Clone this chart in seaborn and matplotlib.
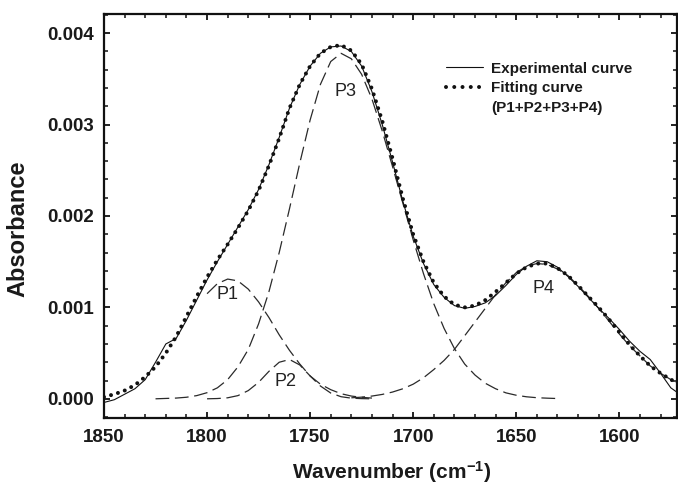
import matplotlib
matplotlib.use("Agg")
import matplotlib.pyplot as plt
from matplotlib.lines import Line2D
from matplotlib.ticker import MultipleLocator, FormatStrFormatter
import seaborn as sns

# ---------------- data ----------------
WAVENUMBER = [1850, 1845, 1840, 1835, 1830, 1825, 1820, 1815, 1810, 1805,
              1800, 1795, 1790, 1785, 1780, 1775, 1770, 1765, 1760, 1755,
              1750, 1745, 1740, 1735, 1730, 1725, 1720, 1715, 1710, 1705,
              1700, 1695, 1690, 1685, 1680, 1675, 1670, 1665, 1660, 1655,
              1650, 1645, 1640, 1635, 1630, 1625, 1620, 1615, 1610, 1605,
              1600, 1595, 1590, 1585, 1580, 1575, 1570]

EXPERIMENTAL = [-0.00004, -0.00001, 0.00005, 0.00011, 0.00021, 0.00040, 0.00060, 0.00066, 0.00086, 0.00108,
                0.00130, 0.00150, 0.00169, 0.00188, 0.00207, 0.00229, 0.00256, 0.00286, 0.00318, 0.00344,
                0.00364, 0.00378, 0.00385, 0.00386, 0.00380, 0.00364, 0.00336, 0.00300, 0.00259, 0.00216,
                0.00178, 0.00148, 0.00125, 0.00111, 0.00102, 0.00099, 0.00101, 0.00105, 0.00113, 0.00124,
                0.00136, 0.00145, 0.00151, 0.00150, 0.00144, 0.00134, 0.00123, 0.00111, 0.00099, 0.00088,
                0.00076, 0.00063, 0.00052, 0.00043, 0.00028, 0.00012, 0.00004]

FITTING = [0.00002, 0.00005, 0.00009, 0.00015, 0.00024, 0.00035, 0.00050, 0.00068, 0.00090, 0.00112,
           0.00133, 0.00152, 0.00169, 0.00187, 0.00206, 0.00228, 0.00255, 0.00285, 0.00318, 0.00344,
           0.00364, 0.00378, 0.00385, 0.00387, 0.00381, 0.00366, 0.00339, 0.00304, 0.00263, 0.00219,
           0.00180, 0.00150, 0.00127, 0.00112, 0.00103, 0.00100, 0.00102, 0.00108, 0.00117, 0.00127,
           0.00137, 0.00144, 0.00148, 0.00148, 0.00143, 0.00135, 0.00124, 0.00112, 0.00100, 0.00087,
           0.00073, 0.00059, 0.00047, 0.00036, 0.00028, 0.00021, 0.00016]

P1_X = [1800, 1795, 1790, 1785, 1780, 1775, 1770, 1765, 1760, 1755,
        1750, 1745, 1740, 1735, 1730, 1725, 1720]
P1_Y = [0.00115, 0.00126, 0.00131, 0.00129, 0.00120, 0.00106, 0.00089, 0.00070, 0.00053, 0.00038,
        0.00025, 0.00016, 0.00010, 0.000056, 0.00003, 0.000016, 0.000008]

P2_X = [1800, 1795, 1790, 1785, 1780, 1775, 1770, 1765, 1760, 1755,
        1750, 1745, 1740, 1735, 1730, 1725, 1720]
P2_Y = [0.0, 0.000003, 0.000011, 0.000035, 0.00009, 0.00018, 0.00030, 0.00040, 0.00043, 0.00037,
        0.00025, 0.00014, 0.000063, 0.000023, 0.000007, 0.000002, 0.0]

P3_X = [1825, 1820, 1815, 1810, 1805, 1800, 1795, 1790, 1785, 1780,
        1775, 1770, 1765, 1760, 1755, 1750, 1745, 1740, 1735, 1730,
        1725, 1720, 1715, 1710, 1705, 1700, 1695, 1690, 1685, 1680,
        1675, 1670, 1665, 1660, 1655, 1650, 1645, 1640, 1635, 1630]
P3_Y = [0.0, 0.000004, 0.000008, 0.000017, 0.000035, 0.000067, 0.00012, 0.00021, 0.00035, 0.00054,
        0.00082, 0.00117, 0.00160, 0.00208, 0.00258, 0.00305, 0.00344, 0.00369, 0.00378, 0.00372,
        0.00355, 0.00328, 0.00293, 0.00254, 0.00214, 0.00174, 0.00137, 0.00104, 0.00077, 0.00055,
        0.00038, 0.00026, 0.00017, 0.00011, 0.000065, 0.000039, 0.000022, 0.000012, 0.000007, 0.000003]

P4_X = [1730, 1725, 1720, 1715, 1710, 1705, 1700, 1695, 1690, 1685,
        1680, 1675, 1670, 1665, 1660, 1655, 1650, 1645, 1640, 1635,
        1630, 1625, 1620, 1615, 1610, 1605, 1600, 1595, 1590, 1585,
        1580, 1575, 1570]
P4_Y = [0.000011, 0.000018, 0.00003, 0.000048, 0.000074, 0.00011, 0.00016, 0.00023, 0.00032, 0.00042,
        0.00054, 0.00069, 0.00084, 0.00099, 0.00114, 0.00127, 0.00138, 0.00145, 0.00148, 0.00147,
        0.00142, 0.00135, 0.00124, 0.00112, 0.00099, 0.00085, 0.00071, 0.00058, 0.00047, 0.00036,
        0.00028, 0.00021, 0.00015]

PEAK_LABELS = ["P1", "P2", "P3", "P4"]
PEAK_LABEL_X = [1790, 1762, 1733, 1637]
PEAK_LABEL_Y = [0.00114, 0.00019, 0.00336, 0.00121]

X_TICKS = [1850, 1800, 1750, 1700, 1650, 1600]
Y_TICKS = [0.000, 0.001, 0.002, 0.003, 0.004]

# ---------------- style ----------------
sns.set_theme(style="ticks")
plt.rcParams["font.family"] = ["Liberation Sans", "DejaVu Sans"]
plt.rcParams["mathtext.fontset"] = "custom"
plt.rcParams["mathtext.rm"] = "Liberation Sans:bold"
plt.rcParams["mathtext.it"] = "Liberation Sans:bold"
plt.rcParams["mathtext.bf"] = "Liberation Sans:bold"
plt.rcParams["mathtext.default"] = "rm"

fig = plt.figure(figsize=(6.78, 4.86), dpi=100)
ax = fig.add_axes([104 / 678, 68 / 486, 573 / 678, 404 / 486])

dash = (0, (11, 4.5))
comp_color = "#2a2a2a"
for xs, ys in [(P1_X, P1_Y), (P2_X, P2_Y), (P3_X, P3_Y), (P4_X, P4_Y)]:
    sns.lineplot(x=xs, y=ys, ax=ax, color=comp_color, linewidth=0.9,
                 linestyle=dash, sort=False, estimator=None)

sns.lineplot(x=WAVENUMBER, y=EXPERIMENTAL, ax=ax, color="#111111", linewidth=0.8,
             sort=False, estimator=None)
sns.lineplot(x=WAVENUMBER, y=FITTING, ax=ax, color="#111111", linewidth=2.9,
             linestyle=(0, (0.001, 1.8)), dash_capstyle="round",
             sort=False, estimator=None)

for lab, lx, ly in zip(PEAK_LABELS, PEAK_LABEL_X, PEAK_LABEL_Y):
    ax.text(lx, ly, lab, ha="center", va="center", fontsize=13, color="#222222")

ax.set_xlim(1850, 1572)
ax.set_ylim(-0.00021, 0.00421)
ax.set_xticks(X_TICKS)
ax.set_yticks(Y_TICKS)
ax.xaxis.set_minor_locator(MultipleLocator(10))
ax.yaxis.set_minor_locator(MultipleLocator(0.0002))
ax.yaxis.set_major_formatter(FormatStrFormatter("%.3f"))

ax.tick_params(which="both", direction="in", top=True, right=True, color="#111111")
ax.tick_params(which="major", length=4.5, width=1.3)
ax.tick_params(which="minor", length=2.6, width=1.1)
ax.tick_params(axis="x", which="major", pad=8)
ax.tick_params(axis="y", which="major", pad=7)
for lab in ax.get_xticklabels() + ax.get_yticklabels():
    lab.set_fontweight("bold")
    lab.set_fontsize(13.5)
    lab.set_color("#1a1a1a")

for sp in ax.spines.values():
    sp.set_linewidth(1.6)
    sp.set_color("#111111")

ax.set_xlabel(r"Wavenumber (cm$^{-1}$)", fontsize=15, fontweight="bold", color="#1a1a1a", va="center")
ax.xaxis.set_label_coords((392 - 104) / 573, (418 - 472) / 404)
ax.set_ylabel("Absorbance", fontsize=17, fontweight="bold", color="#1a1a1a", va="center")
ax.yaxis.set_label_coords((18 - 104) / 573, (418 - 229) / 404)

handles = [
    Line2D([], [], color="#111111", linewidth=0.8),
    Line2D([], [], color="#111111", linewidth=2.9, linestyle=(0, (0.001, 2.05)), dash_capstyle="round"),
    Line2D([], [], linestyle="none"),
]
labels = ["Experimental curve", "Fitting curve", "(P1+P2+P3+P4)"]
leg = ax.legend(handles, labels, loc="upper left", bbox_to_anchor=(0.597, 0.882),
                frameon=False, borderpad=0, borderaxespad=0, handlelength=2.42,
                handletextpad=0.52, labelspacing=0.38,
                prop={"family": "Liberation Sans", "weight": "bold", "size": 11})
for t in leg.get_texts():
    t.set_color("#1a1a1a")

fig.savefig("out.png", dpi=100)
